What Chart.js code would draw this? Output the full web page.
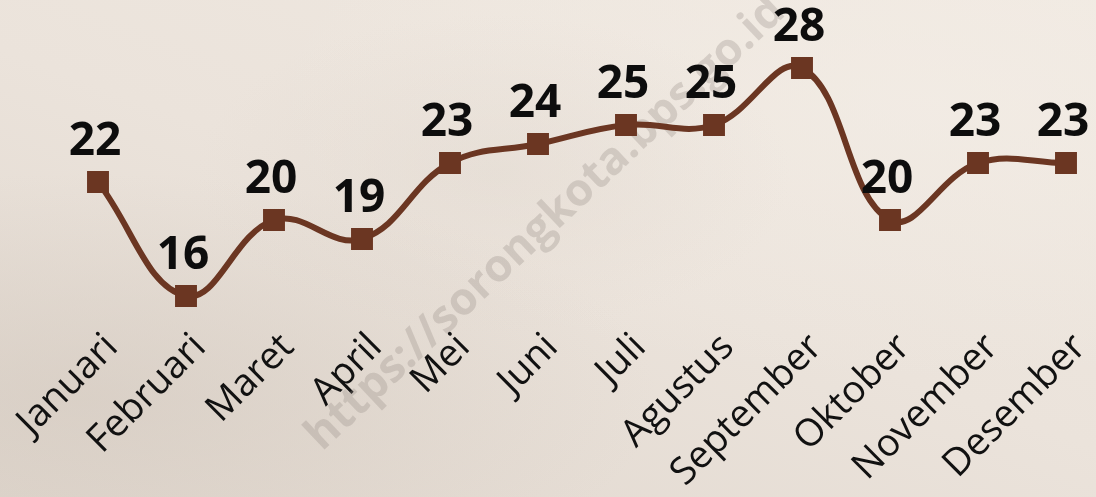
<!DOCTYPE html>
<html>
<head>
<meta charset="utf-8">
<script src="https://cdn.jsdelivr.net/npm/chart.js@4/dist/chart.umd.min.js"></script>
<style>
  html, body {
    margin: 0;
    padding: 0;
  }
  #wrap {
    position: relative;
    width: 1096px;
    height: 497px;
    background:
      radial-gradient(ellipse at 8% 80%, rgba(200, 189, 178, 0.35), rgba(200, 189, 178, 0) 40%),
      radial-gradient(ellipse at 45% 35%, rgba(222, 213, 204, 0.4), rgba(222, 213, 204, 0) 35%),
      radial-gradient(ellipse at 85% 20%, rgba(244, 238, 231, 0.6), rgba(244, 238, 231, 0) 50%),
      linear-gradient(200deg, #f0e9e1 0%, #ebe3db 50%, #e0d7ce 100%);
  }
</style>
</head>
<body>
<div id="wrap">
  <canvas id="chart" width="1096" height="497"></canvas>
</div>
<script>
const months = [
  "Januari", "Februari", "Maret", "April", "Mei", "Juni",
  "Juli", "Agustus", "September", "Oktober", "November", "Desember",
];
const values = [22, 16, 20, 19, 23, 24, 25, 25, 28, 20, 23, 23];
const watermark = "https://sorongkota.bps.go.id";

const lineColor = "#6b3622";

// Value labels above each point (no datalabels plugin available).
const valueLabels = {
  id: "valueLabels",
  afterDatasetsDraw(chart) {
    const ctx = chart.ctx;
    const meta = chart.getDatasetMeta(0);
    ctx.save();
    ctx.font = "bold 46px 'Open Sans'";
    ctx.fillStyle = "#0d0d0d";
    ctx.textAlign = "center";
    ctx.textBaseline = "alphabetic";
    meta.data.forEach((pt, i) => {
      ctx.fillText(String(chart.data.datasets[0].data[i]), pt.x - 3, pt.y - 27);
    });
    ctx.restore();
  },
};

// Faint diagonal site address behind the line.
const watermarkText = {
  id: "watermarkText",
  beforeDatasetsDraw(chart) {
    const ctx = chart.ctx;
    ctx.save();
    ctx.translate(322, 452);
    ctx.rotate(-Math.PI / 4 + 0.03);
    ctx.font = "bold 45px 'Open Sans'";
    ctx.fillStyle = "rgba(150, 140, 132, 0.3)";
    ctx.textAlign = "left";
    ctx.textBaseline = "alphabetic";
    ctx.fillText(watermark, 0, 0);
    ctx.restore();
  },
};

new Chart(document.getElementById("chart"), {
  type: "line",
  data: {
    labels: months,
    datasets: [
      {
        data: values,
        borderColor: lineColor,
        backgroundColor: lineColor,
        borderWidth: 6,
        tension: 0.4,
        pointStyle: "rect",
        pointRadius: 15.5,
        pointHoverRadius: 15.5,
        pointBackgroundColor: lineColor,
        pointBorderWidth: 0,
      },
    ],
  },
  options: {
    responsive: false,
    animation: false,
    layout: {
      padding: { left: 98, right: 30, top: 30, bottom: 0 },
    },
    plugins: {
      legend: { display: false },
      tooltip: { enabled: false },
    },
    scales: {
      x: {
        offset: false,
        grid: { display: false, drawTicks: false },
        border: { display: false },
        ticks: {
          autoSkip: false,
          maxRotation: 45,
          minRotation: 45,
          labelOffset: 14,
          padding: 10,
          color: "#111111",
          font: { family: "'Open Sans'", size: 38, weight: 500 },
        },
        afterFit(scale) {
          scale.height = 182;
          scale.paddingLeft = 0;
          scale.paddingRight = 0;
        },
      },
      y: {
        display: false,
        min: 15,
        max: 30,
      },
    },
  },
  plugins: [watermarkText, valueLabels],
});
</script>
</body>
</html>
